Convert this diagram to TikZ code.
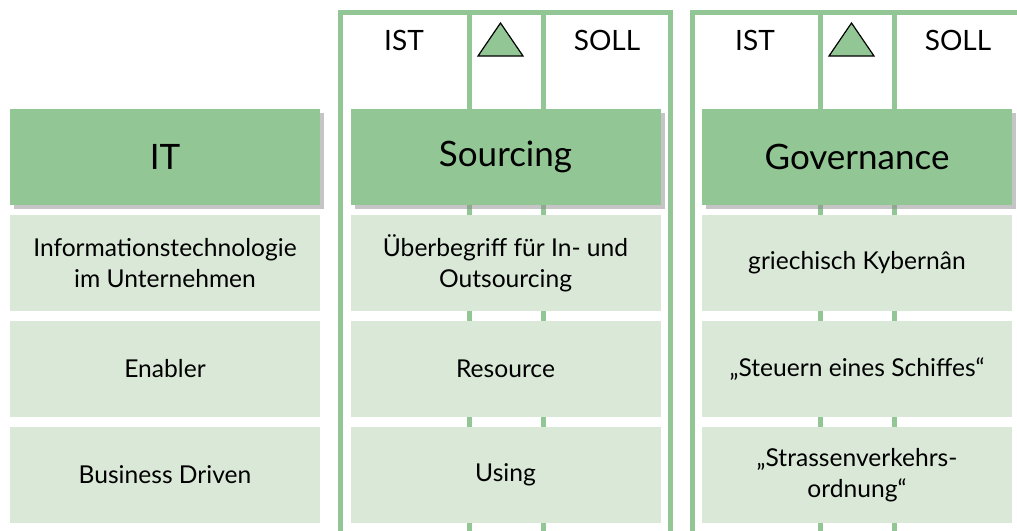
\documentclass[tikz,border=0pt]{standalone}
\usepackage{fontspec}
\setmainfont{Lato}
\usetikzlibrary{positioning,shadows}
\definecolor{hdgreen}{RGB}{147,198,149}
\definecolor{lightgreen}{RGB}{218,233,215}

\begin{document}
\begin{tikzpicture}[x=0.5pt,y=-0.5pt,node distance=5pt]
    \tikzstyle{every node}=[inner sep=0pt, outer sep=0pt, align=center]
    \tikzstyle{head}=[fill=hdgreen, minimum width=155pt, minimum height=48pt, font=\fontsize{17.5}{20}\selectfont, drop shadow={shadow xshift=2pt, shadow yshift=-2pt, fill=black!45}]
    \tikzstyle{cell}=[fill=lightgreen, minimum width=155pt, minimum height=48pt, font=\fontsize{12.3}{15.5}\selectfont]
    \tikzstyle{frame}=[draw=hdgreen, line width=2.5pt]
    \tikzstyle{toptext}=[font=\fontsize{14}{16}\selectfont]
    \tikzstyle{delta}=[draw=black, line width=0.6pt, fill=hdgreen, line join=miter]

    \useasboundingbox (0,0) rectangle (1017,530);

    % Rahmen Sourcing
    \draw[frame] (340,540) -- (340,12.5) -- (670.5,12.5) -- (670.5,540);
    \draw[frame] (469,12.5) -- (469,540);
    \draw[frame] (543,12.5) -- (543,540);
    % Rahmen Governance
    \draw[frame] (692.5,540) -- (692.5,12.5) -- (1030,12.5);
    \draw[frame] (820,12.5) -- (820,540);
    \draw[frame] (894,12.5) -- (894,540);

    \node[toptext] (ist1) at (404,40) {IST};
    \node[toptext] (soll1) at (607,40) {SOLL};
    \node[toptext] (ist2) at (755,40) {IST};
    \node[toptext] (soll2) at (958,40) {SOLL};
    \draw[delta] (478,56) -- (500.5,23) -- (523,56) -- cycle;
    \draw[delta] (829,56) -- (851.5,23) -- (874,56) -- cycle;

    \node[head] (it) at (165,157) {IT};
    \node[head] (sourcing) at (505.5,157) {Sourcing};
    \node[head] (governance) at (857,157) {Governance};

    \node[cell] (it1) [below=of it] {Informationstechnologie\\im Unternehmen};
    \node[cell] (it2) [below=of it1] {Enabler};
    \node[cell] (it3) [below=of it2] {Business Driven};

    \node[cell] (so1) [below=of sourcing] {Überbegriff für In- und\\Outsourcing};
    \node[cell] (so2) [below=of so1] {Resource};
    \node[cell] (so3) [below=of so2] {Using};

    \node[cell] (go1) [below=of governance] {griechisch Kybernân};
    \node[cell] (go2) [below=of go1] {„Steuern eines Schiffes“};
    \node[cell] (go3) [below=of go2] {„Strassenverkehrs-\\ordnung“};
\end{tikzpicture}
\end{document}
